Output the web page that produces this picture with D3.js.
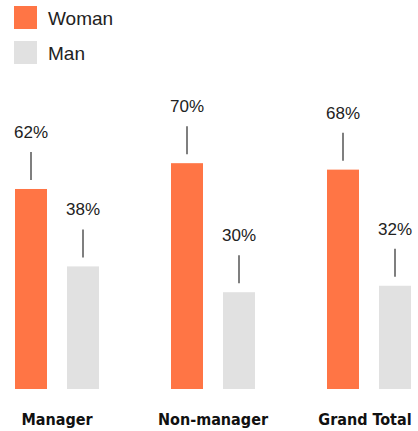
<html>
<head>
<script src="https://d3js.org/d3.v7.min.js"></script>
<style>
  body { margin: 0; background: #fff; }
  text { font-family: "Liberation Sans", Arial, sans-serif; }
</style>
</head>
<body>
<svg width="418" height="431"></svg>
<script>
var categories = ["Manager", "Non-manager", "Grand Total"];
var groups = ["Woman", "Man"];
var woman = [62, 70, 68];
var man = [38, 30, 32];
var colors = {Woman: "#ff7545", Man: "#e1e1e1"};

var svg = d3.select("svg");

// legend
var legend = svg.selectAll(".legend")
  .data(groups)
  .enter().append("g")
  .attr("transform", function (d, i) { return "translate(14," + (6 + i * 35) + ")"; });
legend.append("rect")
  .attr("width", 23).attr("height", 23)
  .attr("fill", function (d) { return colors[d]; });
legend.append("text")
  .attr("x", 34).attr("y", 19)
  .attr("font-size", 19)
  .attr("fill", "#222")
  .text(function (d) { return d; });

var x0 = d3.scalePoint().domain(categories).range([57, 369]);
var x1 = d3.scaleBand().domain(groups).range([-42, 42]).paddingInner(20 / 52);
var y = d3.scaleLinear().domain([0, 100]).range([389, 66.4]);

var rows = categories.map(function (c, i) {
  return [{cat: c, g: "Woman", v: woman[i]}, {cat: c, g: "Man", v: man[i]}];
});
var flat = [].concat.apply([], rows);

var bars = svg.selectAll(".bar")
  .data(flat)
  .enter().append("g")
  .attr("transform", function (d) { return "translate(" + (x0(d.cat) + x1(d.g)) + ",0)"; });

bars.append("rect")
  .attr("y", function (d) { return y(d.v); })
  .attr("width", x1.bandwidth())
  .attr("height", function (d) { return y(0) - y(d.v); })
  .attr("fill", function (d) { return colors[d.g]; });

bars.append("line")
  .attr("x1", x1.bandwidth() / 2).attr("x2", x1.bandwidth() / 2)
  .attr("y1", function (d) { return y(d.v) - 37; })
  .attr("y2", function (d) { return y(d.v) - 9; })
  .attr("stroke", "#555").attr("stroke-width", 1.5);

bars.append("text")
  .attr("x", x1.bandwidth() / 2)
  .attr("y", function (d) { return y(d.v) - 51; })
  .attr("text-anchor", "middle")
  .attr("font-size", 17)
  .attr("fill", "#222")
  .text(function (d) { return d.v + "%"; });

// category labels
svg.selectAll(".cat")
  .data(categories)
  .enter().append("text")
  .attr("x", function (d, i) { return i == 2 ? 365 : x0(d); })
  .attr("y", 425)
  .attr("text-anchor", "middle")
  .attr("font-size", 16)
  .attr("font-weight", "bold")
  .attr("fill", "#111")
  .style("font-family", "'Liberation Sans Narrow', 'DejaVu Sans Condensed', sans-serif")
  .text(function (d) { return d; });
</script>
</body>
</html>
